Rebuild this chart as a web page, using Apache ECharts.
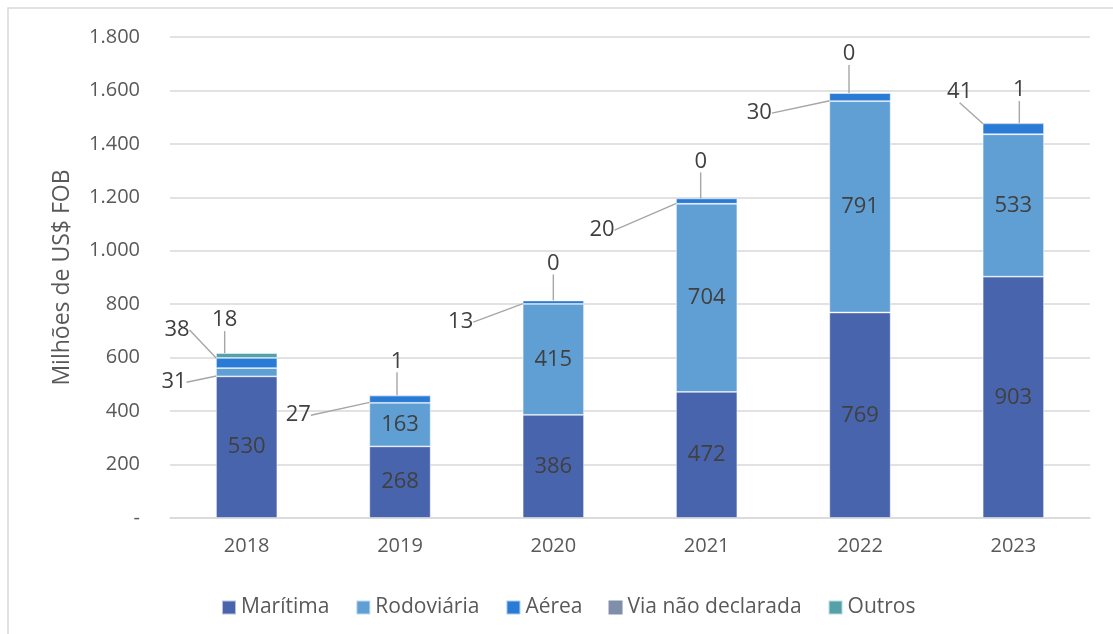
<!DOCTYPE html>
<html>
<head>
<meta charset="utf-8">
<script src="https://cdn.jsdelivr.net/npm/echarts@6/dist/echarts.min.js"></script>
<style>
  html, body { margin: 0; padding: 0; background: #fff; }
  #chart { width: 1113px; height: 634px; }
</style>
</head>
<body>
<div id="chart"></div>
<script>
// dados (milhões de US$ FOB)
const years = ['2018', '2019', '2020', '2021', '2022', '2023'];
const maritima = [530, 268, 386, 472, 769, 903];
const rodoviaria = [31, 163, 415, 704, 791, 533];
const aerea = [38, 27, 13, 20, 30, 41];
const viaNaoDeclarada = [null, 1, 0, 0, 0, 1];
const outros = [18, null, null, null, null, null];

const yTicks = { min: 0, max: 1800, interval: 200 };

// rótulos fora da barra: [tipo, dx, dy] relativo ao ponto de ancoragem
const callouts = {
    'Rodoviária': { 0: ['left', -42, 10] },
    'Aérea': {
        0: ['left', -39, -33],
        1: ['left', -71, 16],
        2: ['left', -62, 20],
        3: ['left', -74, 29],
        4: ['left', -70, 16],
        5: ['leftTop', -23, -37]
    },
    'Via não declarada': {
        1: ['top', -3, -34],
        2: ['top', 0, -37],
        3: ['top', -6, -37],
        4: ['top', -11, -39],
        5: ['top', 6, -33]
    },
    'Outros': { 0: ['top', -22, -33] }
};

const FONT = '"Open Sans", "Noto Sans", sans-serif';
const lineColor = '#a6a6a6';

//posiciona rótulo e a linha guia
const calloutLayout = (name) => {
    return function (params) {
        const c = (callouts[name] || {})[params.dataIndex];
        if (!c) return;
        const r = params.rect;
        const kind = c[0];
        const ax = kind === 'top' ? r.x + r.width / 2 : r.x;
        const ay = kind === 'top' ? r.y : r.y + r.height / 2;
        const lx = ax + c[1];
        const ly = ay + c[2];
        const hw = params.labelRect.width / 2;
        let pts;
        if (kind === 'left') {
            pts = [[lx + hw + 10, ly], [lx + hw + 22, ly], [ax, ay]];
        } else {
            pts = [[lx, ly + 17], [ax, ay]];
        }
        return {
            x: lx,
            y: ly,
            align: 'center',
            verticalAlign: 'middle',
            labelLinePoints: pts
        };
    };
};

const makeSeries = (name, values, color, border) => {
    const co = callouts[name] || {};
    return {
        name,
        type: 'bar',
        stack: 'total',
        barWidth: '40%',
        itemStyle: {
            color,
            borderColor: border ? 'rgba(255,255,255,0.6)' : color,
            borderWidth: border ? 0.8 : 0
        },
        label: {
            show: true,
            position: 'inside',
            color: '#404040',
            fontSize: 22,
            fontFamily: FONT
        },
        labelLine: {
            show: false,
            lineStyle: { color: lineColor, width: 1.4 }
        },
        labelLayout: calloutLayout(name),
        data: values.map((v, i) => {
            if (co[i]) {
                return { value: v, labelLine: { show: true, lineStyle: { color: lineColor, width: 1.4 } } };
            }
            return v;
        })
    };
};

const chart = echarts.init(document.getElementById('chart'), null, { renderer: 'canvas' });

const option = {
    backgroundColor: '#fff',
    animation: false,
    textStyle: { fontFamily: FONT },
    graphic: [{
        type: 'rect',
        shape: { x: 8, y: 8, width: 1300, height: 800 },
        style: { fill: 'none', stroke: '#d9d9d9', lineWidth: 1.5 },
        silent: true
    }],
    grid: {
        left: 170,
        right: 23,
        top: 37,
        bottom: 116
    },
    legend: {
        left: 216,
        top: 592,
        icon: 'rect',
        itemWidth: 14,
        itemHeight: 14,
        itemGap: 26,
        textStyle: { color: '#595959', fontSize: 21, fontFamily: FONT },
        data: ['Marítima', 'Rodoviária', 'Aérea', 'Via não declarada', 'Outros']
    },
    xAxis: {
        type: 'category',
        data: years,
        axisLine: { lineStyle: { color: '#d9d9d9', width: 1.5 } },
        axisTick: { show: false },
        axisLabel: { color: '#595959', fontSize: 20, margin: 18, fontFamily: FONT }
    },
    yAxis: {
        type: 'value',
        min: yTicks.min,
        max: yTicks.max,
        interval: yTicks.interval,
        name: 'Milhões de US$ FOB',
        nameLocation: 'middle',
        nameGap: 96,
        nameTextStyle: { color: '#595959', fontSize: 23, fontFamily: FONT },
        axisLine: { show: false },
        axisTick: { show: false },
        splitLine: { lineStyle: { color: '#d9d9d9', width: 1.5 } },
        axisLabel: {
            color: '#595959',
            fontSize: 20,
            margin: 30,
            fontFamily: FONT,
            formatter: (v) => v === 0 ? '-' : v.toLocaleString('de-DE')
        }
    },
    series: [
        makeSeries('Marítima', maritima, '#4864ad', true),
        makeSeries('Rodoviária', rodoviaria, '#609fd4', true),
        makeSeries('Aérea', aerea, '#2a7bd6', true),
        makeSeries('Via não declarada', viaNaoDeclarada, '#7f8fa9', false),
        makeSeries('Outros', outros, '#55a1a9', true)
    ]
};

chart.setOption(option);
</script>
</body>
</html>
